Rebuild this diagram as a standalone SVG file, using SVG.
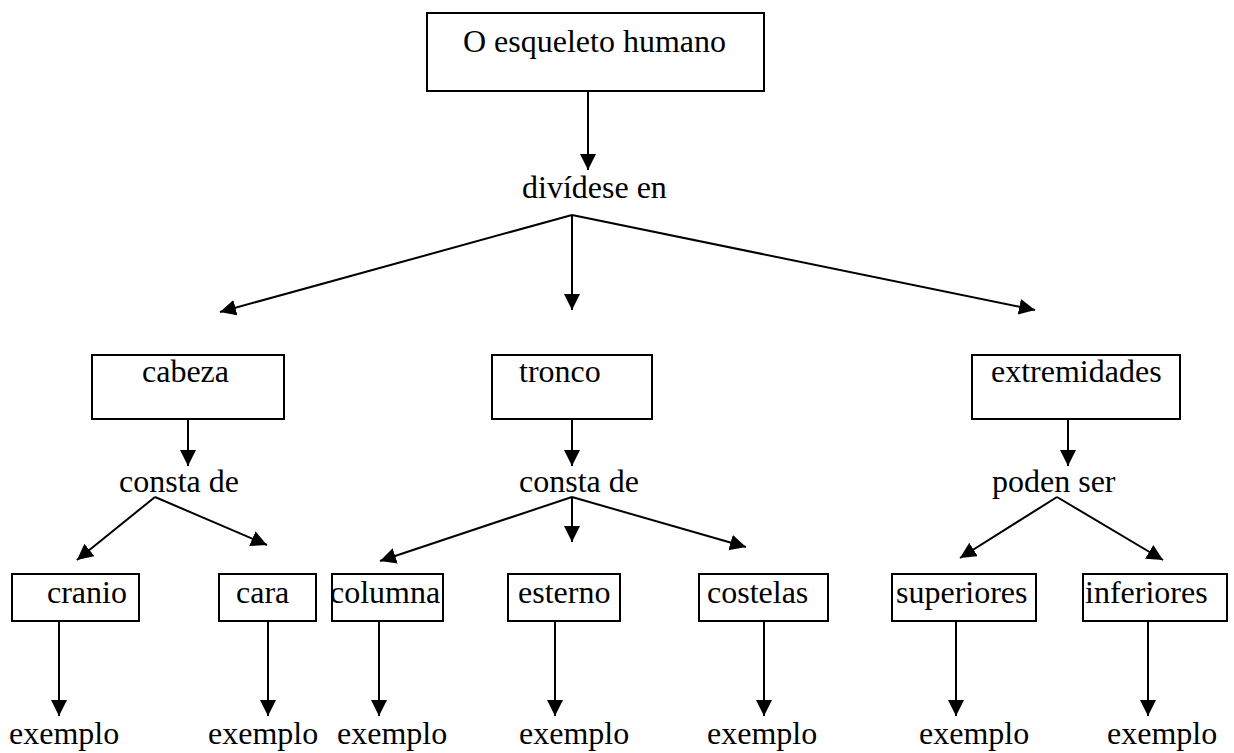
<svg xmlns="http://www.w3.org/2000/svg" width="1234" height="753" viewBox="0 0 1234 753">
<style>
.box{fill:#fff;stroke:#000;stroke-width:2}
.t{font-family:"Liberation Serif","Times New Roman",serif;font-size:32px;fill:#000}
.c{stroke:#000;stroke-width:2;fill:none;marker-end:url(#ah)}
</style>
<defs>
<marker id="ah" markerUnits="userSpaceOnUse" markerWidth="17" markerHeight="17" viewBox="0 0 17 17" refX="16" refY="8" orient="auto">
<path d="M0,0 L16,8 L0,16 z" fill="#000"/>
</marker>
</defs>
<rect width="1234" height="753" fill="#fff"/>
<g id="connectors">
<line class="c" x1="588" y1="91" x2="588" y2="170"/>
<line class="c" x1="572" y1="215" x2="220" y2="312"/>
<line class="c" x1="572" y1="215" x2="572" y2="310"/>
<line class="c" x1="572" y1="215" x2="1035" y2="310"/>
<line class="c" x1="188" y1="419" x2="188" y2="466"/>
<line class="c" x1="572" y1="419" x2="572" y2="466"/>
<line class="c" x1="1068" y1="419" x2="1068" y2="466"/>
<line class="c" x1="155" y1="497" x2="77" y2="560"/>
<line class="c" x1="155" y1="497" x2="267" y2="545"/>
<line class="c" x1="572" y1="497" x2="380" y2="561"/>
<line class="c" x1="572" y1="497" x2="572" y2="542"/>
<line class="c" x1="572" y1="497" x2="746" y2="547"/>
<line class="c" x1="1057" y1="497" x2="960" y2="558"/>
<line class="c" x1="1057" y1="497" x2="1163" y2="560"/>
<line class="c" x1="59" y1="621" x2="59" y2="716"/>
<line class="c" x1="268" y1="621" x2="268" y2="716"/>
<line class="c" x1="379" y1="621" x2="379" y2="716"/>
<line class="c" x1="555" y1="621" x2="555" y2="716"/>
<line class="c" x1="764" y1="621" x2="764" y2="716"/>
<line class="c" x1="956" y1="621" x2="956" y2="716"/>
<line class="c" x1="1148" y1="621" x2="1148" y2="716"/>
</g>
<g id="n-root"><rect class="box" x="427" y="13" width="337" height="78"/><text class="t" x="463" y="52">O esqueleto humano</text></g>
<g id="l-divide"><text class="t" x="522" y="198">divídese en</text></g>
<g id="n-cabeza"><rect class="box" x="92" y="355" width="192" height="64"/><text class="t" x="142" y="382">cabeza</text></g>
<g id="n-tronco"><rect class="box" x="492" y="355" width="160" height="64"/><text class="t" x="519" y="382">tronco</text></g>
<g id="n-extremidades"><rect class="box" x="972" y="355" width="208" height="64"/><text class="t" x="991" y="382">extremidades</text></g>
<g id="l-consta1"><text class="t" x="119" y="492">consta de</text></g>
<g id="l-consta2"><text class="t" x="519" y="492">consta de</text></g>
<g id="l-poden"><text class="t" x="992" y="492">poden ser</text></g>
<g id="n-cranio"><rect class="box" x="12" y="574" width="127" height="47"/><text class="t" x="47" y="603">cranio</text></g>
<g id="n-cara"><rect class="box" x="219" y="574" width="97" height="47"/><text class="t" x="236" y="603">cara</text></g>
<g id="n-columna"><rect class="box" x="332" y="574" width="111" height="47"/><text class="t" x="330" y="603">columna</text></g>
<g id="n-esterno"><rect class="box" x="508" y="574" width="112" height="47"/><text class="t" x="518" y="603">esterno</text></g>
<g id="n-costelas"><rect class="box" x="699" y="574" width="129" height="47"/><text class="t" x="707" y="603">costelas</text></g>
<g id="n-superiores"><rect class="box" x="892" y="574" width="144" height="47"/><text class="t" x="896" y="603">superiores</text></g>
<g id="n-inferiores"><rect class="box" x="1083" y="574" width="144" height="47"/><text class="t" x="1085" y="603">inferiores</text></g>
<g id="e1"><text class="t" x="9" y="744">exemplo</text></g>
<g id="e2"><text class="t" x="208" y="744">exemplo</text></g>
<g id="e3"><text class="t" x="337" y="744">exemplo</text></g>
<g id="e4"><text class="t" x="519" y="744">exemplo</text></g>
<g id="e5"><text class="t" x="707" y="744">exemplo</text></g>
<g id="e6"><text class="t" x="919" y="744">exemplo</text></g>
<g id="e7"><text class="t" x="1107" y="744">exemplo</text></g>
</svg>
